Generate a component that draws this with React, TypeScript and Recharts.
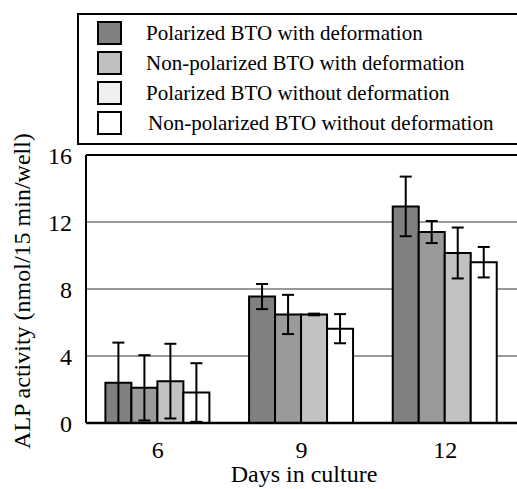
import { BarChart, Bar, XAxis, YAxis, CartesianGrid, ErrorBar, ReferenceLine } from 'recharts'

const days = ['6', '9', '12']
const seriesNames = [
  'Polarized BTO with deformation',
  'Non-polarized BTO with deformation',
  'Polarized BTO without deformation',
  'Non-polarized BTO without deformation',
]
const polDef = [2.4, 7.55, 12.93]
const polDefErr = [2.4, 0.75, 1.78]
const nonPolDef = [2.1, 6.48, 11.4]
const nonPolDefErr = [1.95, 1.17, 0.66]
const polNoDef = [2.5, 6.48, 10.15]
const polNoDefErr = [2.23, 0.05, 1.52]
const nonPolNoDef = [1.82, 5.63, 9.6]
const nonPolNoDefErr = [1.75, 0.87, 0.91]
const yTicks = [0, 4, 8, 12, 16]

const barFills = ['#808080', '#9a9a9a', '#c2c2c2', '#ffffff']
const legendFills = ['#808080', '#c0c0c0', '#efefef', '#ffffff']

const data = days.map((d, i) => ({
  day: d,
  s1: polDef[i],
  e1: polDefErr[i],
  s2: nonPolDef[i],
  e2: nonPolDefErr[i],
  s3: polNoDef[i],
  e3: polNoDefErr[i],
  s4: nonPolNoDef[i],
  e4: nonPolNoDefErr[i],
}))

const font = '"Liberation Serif", "Times New Roman", serif'

function BoxLegend() {
  return (
    <div
      style={{
        position: 'absolute',
        left: 77,
        top: 13,
        width: 445,
        height: 128,
        border: '2px solid #000',
        background: '#fff',
        fontFamily: font,
        fontSize: 21,
        color: '#000',
      }}
    >
      {seriesNames.map((name, i) => (
        <div
          key={name}
          style={{
            position: 'absolute',
            left: 18,
            top: 6 + i * 30,
            display: 'flex',
            alignItems: 'center',
            height: 24,
          }}
        >
          <span
            style={{
              width: 21,
              height: 20,
              border: '2px solid #000',
              background: legendFills[i],
              display: 'inline-block',
              flex: 'none',
            }}
          />
          <span style={{ marginLeft: i === 3 ? 26 : 24, whiteSpace: 'nowrap' }}>{name}</span>
        </div>
      ))}
    </div>
  )
}

export default function App() {
  return (
    <div style={{ position: 'fixed', left: 0, top: 0, width: 517, height: 489, background: '#fff', overflow: 'hidden' }}>
      <BarChart
        width={517}
        height={489}
        data={data}
        margin={{ top: 155, right: 0, bottom: 0, left: 0 }}
        barCategoryGap="13.5%"
        barGap={0}
        style={{ fontFamily: font }}
      >
        <CartesianGrid vertical={false} stroke="#333" strokeWidth={1} />
        <XAxis
          dataKey="day"
          height={66}
          tickLine={false}
          tickMargin={12}
          axisLine={{ stroke: '#000', strokeWidth: 2.5 }}
          tick={{ fill: '#000', fontSize: 24, fontFamily: font }}
          label={{
            content: () => (
              <text x={304} y={482} textAnchor="middle" fill="#000" fontSize={24} fontFamily={font}>
                Days in culture
              </text>
            ),
          }}
        />
        <YAxis
          width={86}
          domain={[0, 16]}
          ticks={yTicks}
          tickLine={false}
          tickMargin={8}
          axisLine={{ stroke: '#000', strokeWidth: 2 }}
          tick={{ fill: '#000', fontSize: 24, fontFamily: font }}
          label={{
            content: () => (
              <text
                x={30}
                y={291}
                transform="rotate(-90 30 291)"
                textAnchor="middle"
                fill="#000"
                fontSize={24}
                fontFamily={font}
              >
                ALP activity (nmol/15 min/well)
              </text>
            ),
          }}
        />
        <ReferenceLine y={16} stroke="#000" strokeWidth={2} />
        <Bar dataKey="s1" name={seriesNames[0]} fill={barFills[0]} stroke="#000" strokeWidth={2} isAnimationActive={false}>
          <ErrorBar dataKey="e1" width={6} stroke="#000" strokeWidth={2} />
        </Bar>
        <Bar dataKey="s2" name={seriesNames[1]} fill={barFills[1]} stroke="#000" strokeWidth={2} isAnimationActive={false}>
          <ErrorBar dataKey="e2" width={6} stroke="#000" strokeWidth={2} />
        </Bar>
        <Bar dataKey="s3" name={seriesNames[2]} fill={barFills[2]} stroke="#000" strokeWidth={2} isAnimationActive={false}>
          <ErrorBar dataKey="e3" width={6} stroke="#000" strokeWidth={2} />
        </Bar>
        <Bar dataKey="s4" name={seriesNames[3]} fill={barFills[3]} stroke="#000" strokeWidth={2} isAnimationActive={false}>
          <ErrorBar dataKey="e4" width={6} stroke="#000" strokeWidth={2} />
        </Bar>
      </BarChart>
      <BoxLegend />
    </div>
  )
}
